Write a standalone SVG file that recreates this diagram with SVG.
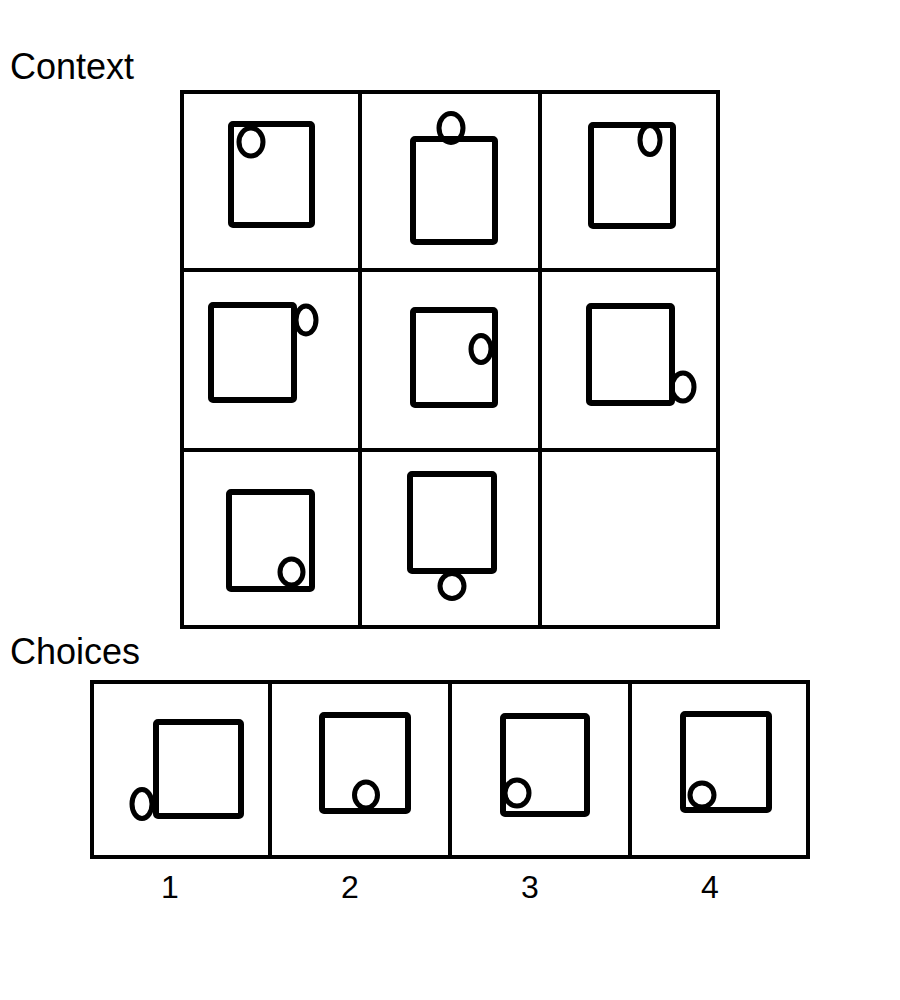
<svg xmlns="http://www.w3.org/2000/svg" width="900" height="1000" viewBox="0 0 900 1000">
<style>
.lbl{font-family:"Liberation Sans",Arial,sans-serif;font-size:36px;fill:#000}
.num{font-family:"Liberation Sans",Arial,sans-serif;font-size:32px;fill:#000;text-anchor:middle}
.grid{fill:none;stroke:#000;stroke-width:4}
.sq{fill:none;stroke:#000;stroke-width:6;stroke-linejoin:round}
.ov{fill:none;stroke:#000;stroke-width:5}
</style>
<rect width="900" height="1000" fill="#fff"/>
<text class="lbl" x="10" y="79">Context</text>
<text class="lbl" x="10" y="664">Choices</text>
<g id="context-grid">
<rect class="grid" x="182" y="92" width="536" height="535"/>
<line class="grid" x1="360" y1="92" x2="360" y2="627"/>
<line class="grid" x1="540" y1="92" x2="540" y2="627"/>
<line class="grid" x1="182" y1="270" x2="718" y2="270"/>
<line class="grid" x1="182" y1="450" x2="718" y2="450"/>
</g>
<g id="cell-1-1"><rect class="sq" x="231" y="124" width="81" height="101" rx="2"/><ellipse class="ov" cx="251" cy="142" rx="12" ry="14"/></g>
<g id="cell-1-2"><rect class="sq" x="413" y="139" width="82" height="103" rx="2"/><ellipse class="ov" cx="451" cy="128" rx="12" ry="14.5"/></g>
<g id="cell-1-3"><rect class="sq" x="591" y="125" width="82" height="101" rx="2"/><ellipse class="ov" cx="650" cy="140" rx="10" ry="14.5"/></g>
<g id="cell-2-1"><rect class="sq" x="211" y="305" width="83" height="95" rx="2"/><ellipse class="ov" cx="306" cy="320" rx="10" ry="14"/></g>
<g id="cell-2-2"><rect class="sq" x="413" y="310" width="82" height="95" rx="2"/><ellipse class="ov" cx="481" cy="349" rx="10" ry="13.5"/></g>
<g id="cell-2-3"><rect class="sq" x="589" y="306" width="83" height="97" rx="2"/><ellipse class="ov" cx="683" cy="387" rx="11" ry="14"/></g>
<g id="cell-3-1"><rect class="sq" x="229" y="492" width="83" height="97" rx="2"/><ellipse class="ov" cx="291.5" cy="572" rx="11.5" ry="13"/></g>
<g id="cell-3-2"><rect class="sq" x="410" y="474" width="84" height="97" rx="2"/><ellipse class="ov" cx="452" cy="586" rx="12" ry="12.5"/></g>
<g id="choices-grid">
<rect class="grid" x="92" y="682" width="716" height="175"/>
<line class="grid" x1="270" y1="682" x2="270" y2="857"/>
<line class="grid" x1="450" y1="682" x2="450" y2="857"/>
<line class="grid" x1="630" y1="682" x2="630" y2="857"/>
</g>
<g id="choice-1"><rect class="sq" x="156" y="722" width="85" height="94" rx="2"/><ellipse class="ov" cx="142" cy="804" rx="10" ry="14.5"/></g>
<g id="choice-2"><rect class="sq" x="322" y="715" width="86" height="96" rx="2"/><ellipse class="ov" cx="366" cy="795" rx="11.5" ry="13"/></g>
<g id="choice-3"><rect class="sq" x="503" y="716" width="84" height="98" rx="2"/><ellipse class="ov" cx="517" cy="793" rx="12" ry="13"/></g>
<g id="choice-4"><rect class="sq" x="683" y="714" width="86" height="96" rx="2"/><ellipse class="ov" cx="702" cy="795" rx="12" ry="12"/></g>
<text class="num" x="170" y="898">1</text>
<text class="num" x="350" y="898">2</text>
<text class="num" x="530" y="898">3</text>
<text class="num" x="710" y="898">4</text>
</svg>
